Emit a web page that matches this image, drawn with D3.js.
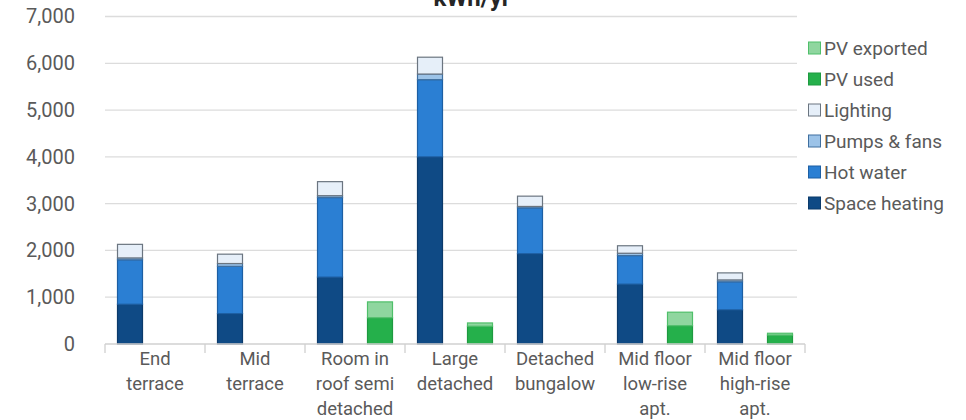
<!DOCTYPE html>
<html>
<head>
<meta charset="utf-8">
<script src="https://cdn.jsdelivr.net/npm/d3@7"></script>
<style>
  html, body { margin: 0; padding: 0; background: #ffffff; }
  svg { display: block; font-family: Roboto, "Noto Sans", sans-serif; }
</style>
</head>
<body>
<svg id="chart" width="966" height="420"></svg>
<script>
// Dwelling types (label lines)
const categories = [
  ["End", "terrace"],
  ["Mid", "terrace"],
  ["Room in", "roof semi", "detached"],
  ["Large", "detached"],
  ["Detached", "bungalow"],
  ["Mid floor", "low-rise", "apt."],
  ["Mid floor", "high-rise", "apt."]
];

// Annual energy demand, kWh/yr
const spaceHeating = [850, 650, 1430, 4000, 1930, 1280, 730];
const hotWater     = [950, 1010, 1700, 1650, 980, 610, 600];
const pumpsFans    = [40, 60, 40, 120, 30, 50, 40];
const lighting     = [290, 200, 300, 360, 220, 160, 150];

// Solar PV generation, kWh/yr
const pvUsed     = [0, 0, 560, 380, 0, 390, 190];
const pvExported = [0, 0, 340, 70, 0, 290, 40];

const yTicks = [0, 1000, 2000, 3000, 4000, 5000, 6000, 7000];

const demandSeries = [
  { name: "Space heating", values: spaceHeating, fill: "#0f4a85", stroke: "#0b3a6a" },
  { name: "Hot water",     values: hotWater,     fill: "#2b7fd3", stroke: "#1d5fa3" },
  { name: "Pumps & fans",  values: pumpsFans,    fill: "#9cc3e8", stroke: "#3f6f9f" },
  { name: "Lighting",      values: lighting,     fill: "#e6eff9", stroke: "#6b7580" }
];
const pvSeries = [
  { name: "PV used",     values: pvUsed,     fill: "#25b04b", stroke: "#1e9a40" },
  { name: "PV exported", values: pvExported, fill: "#8fd69f", stroke: "#4fbf6a" }
];
const legendOrder = ["PV exported", "PV used", "Lighting", "Pumps & fans", "Hot water", "Space heating"];

const svg = d3.select("#chart");
const margin = { left: 105, right: 161, top: 16.5, bottom: 76 };
const W = 966, H = 420;
const x0 = margin.left, x1 = W - margin.right;
const yTop = margin.top, yBottom = H - margin.bottom;

const x = d3.scaleBand().domain(d3.range(categories.length)).range([x0, x1]).paddingInner(0).paddingOuter(0);
const sub = d3.scaleBand().domain(["demand", "pv"]).range([0, x.bandwidth()]).paddingInner(0.5).paddingOuter(0.25);
const y = d3.scaleLinear().domain([0, 7000]).range([yBottom, yTop]);

// Gridlines
svg.append("g").selectAll("line").data(yTicks.filter(d => d > 0)).join("line")
  .attr("x1", x0).attr("x2", x1 - 8)
  .attr("y1", d => y(d)).attr("y2", d => y(d))
  .attr("stroke", "#dcdcdc").attr("stroke-width", 1.3);

// Y axis labels
const yAxis = d3.axisLeft(y).tickValues(yTicks).tickFormat(d3.format(",")).tickSize(0).tickPadding(0);
const gy = svg.append("g").attr("transform", `translate(${x0 - 30},0)`).call(yAxis);
gy.select(".domain").remove();
gy.selectAll("text").attr("font-size", 20).attr("fill", "#5a5a5a").attr("font-family", "Roboto, sans-serif");

// Stacked bars
function drawStack(series, key) {
  const stack = d3.stack().keys(series.map((s, i) => i)).value((d, k) => series[k].values[d]);
  const layers = stack(d3.range(categories.length));
  layers.forEach((layer, k) => {
    svg.append("g").selectAll("rect").data(layer.map((d, i) => ({ d, i })).filter(o => series[k].values[o.i] > 0)).join("rect")
      .attr("x", o => x(o.i) + sub(key))
      .attr("width", sub.bandwidth())
      .attr("y", o => y(o.d[1]))
      .attr("height", o => y(o.d[0]) - y(o.d[1]))
      .attr("fill", series[k].fill)
      .attr("stroke", series[k].stroke)
      .attr("stroke-width", 1.2);
  });
}
drawStack(demandSeries, "demand");
drawStack(pvSeries, "pv");

// X axis line with category dividers
const gx = svg.append("g");
gx.append("line").attr("x1", x0).attr("x2", x1).attr("y1", yBottom).attr("y2", yBottom)
  .attr("stroke", "#d0d0d0").attr("stroke-width", 1.3);
gx.selectAll("line.div").data(d3.range(categories.length + 1)).join("line").attr("class", "div")
  .attr("x1", i => x0 + i * x.bandwidth()).attr("x2", i => x0 + i * x.bandwidth())
  .attr("y1", yBottom).attr("y2", yBottom + 9)
  .attr("stroke", "#d0d0d0").attr("stroke-width", 1.3);

// Category labels
const labels = gx.selectAll("text").data(categories).join("text")
  .attr("x", (d, i) => x(i) + x.bandwidth() / 2)
  .attr("y", yBottom + 21)
  .attr("text-anchor", "middle")
  .attr("font-size", 18.5)
  .attr("fill", "#5a5a5a");
labels.each(function(lines) {
  d3.select(this).selectAll("tspan").data(lines).join("tspan")
    .attr("x", d3.select(this).attr("x"))
    .attr("dy", (d, j) => j === 0 ? 0 : 25)
    .text(d => d);
});

// Title
svg.append("text").attr("x", 472).attr("y", 6)
  .attr("text-anchor", "middle").attr("font-size", 24).attr("font-weight", "bold")
  .attr("fill", "#262626").text("kWh/yr");

// Legend
const allSeries = demandSeries.concat(pvSeries);
const lg = svg.append("g").attr("transform", "translate(808,48)");
legendOrder.forEach((name, j) => {
  const s = allSeries.find(a => a.name === name);
  const row = lg.append("g").attr("transform", `translate(0,${j * 31})`);
  row.append("rect").attr("x", 0.5).attr("y", -6).attr("width", 12).attr("height", 12)
    .attr("fill", s.fill).attr("stroke", s.stroke).attr("stroke-width", 1);
  row.append("text").attr("x", 16).attr("y", 6.5).attr("font-size", 19).attr("fill", "#5a5a5a").text(name);
});
</script>
</body>
</html>
